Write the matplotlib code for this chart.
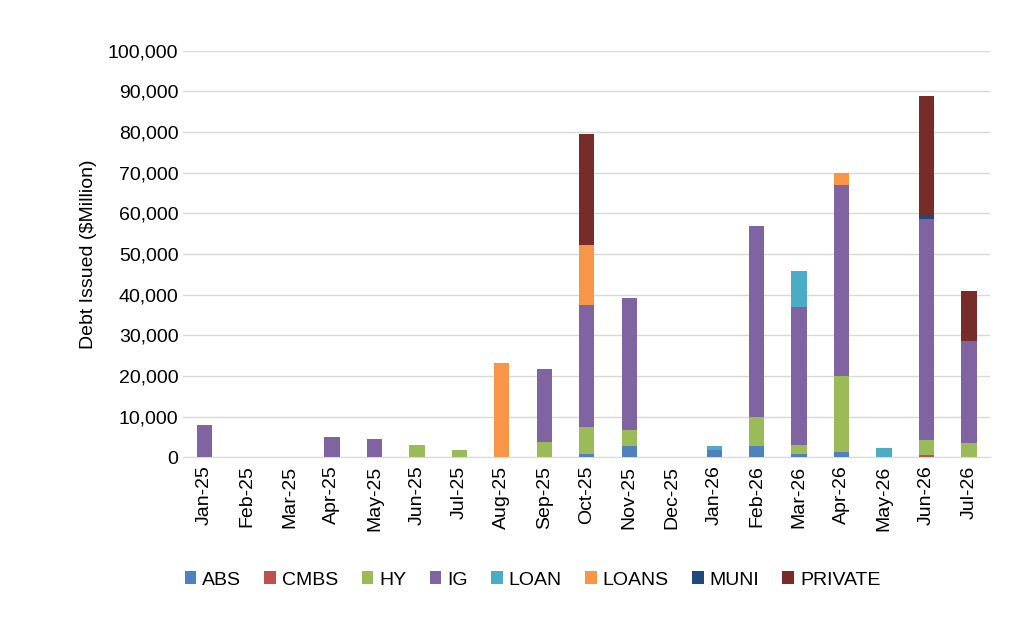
import numpy as np
import matplotlib
matplotlib.use("Agg")
import matplotlib.pyplot as plt
from matplotlib.ticker import FuncFormatter

months = ["Jan-25", "Feb-25", "Mar-25", "Apr-25", "May-25", "Jun-25", "Jul-25",
          "Aug-25", "Sep-25", "Oct-25", "Nov-25", "Dec-25", "Jan-26", "Feb-26",
          "Mar-26", "Apr-26", "May-26", "Jun-26", "Jul-26"]

abs_ = [0, 0, 0, 0, 0, 0, 0, 0, 0, 900, 2700, 0, 1800, 2700, 700, 1300, 0, 0, 0]
cmbs = [0, 0, 0, 0, 0, 0, 0, 0, 0, 0, 0, 0, 0, 0, 0, 0, 0, 500, 0]
hy = [0, 0, 0, 0, 0, 3000, 1800, 0, 3700, 6500, 4100, 0, 0, 7300, 2300, 18700, 0, 3800, 3500]
ig = [7800, 0, 0, 5000, 4500, 0, 0, 0, 18000, 30100, 32400, 0, 0, 47000, 34000, 47000, 0, 54200, 25000]
loan = [0, 0, 0, 0, 0, 0, 0, 0, 0, 0, 0, 0, 1000, 0, 8800, 0, 2300, 0, 0]
loans = [0, 0, 0, 0, 0, 0, 0, 23300, 0, 14700, 0, 0, 0, 0, 0, 3000, 0, 0, 0]
muni = [0, 0, 0, 0, 0, 0, 0, 0, 0, 0, 0, 0, 0, 0, 0, 0, 0, 1200, 0]
private = [0, 0, 0, 0, 0, 0, 0, 0, 0, 27300, 0, 0, 0, 0, 0, 0, 0, 29300, 12500]

series = [("ABS", abs_, "#4F81BD"), ("CMBS", cmbs, "#C0504D"), ("HY", hy, "#9BBB59"),
          ("IG", ig, "#8064A2"), ("LOAN", loan, "#4BACC6"), ("LOANS", loans, "#F79646"),
          ("MUNI", muni, "#1F497D"), ("PRIVATE", private, "#772C2A")]

plt.rcParams["font.family"] = ["Liberation Sans", "DejaVu Sans"]
fig, ax = plt.subplots(figsize=(10.24, 6.28), dpi=100)
fig.subplots_adjust(left=0.179, right=0.967, top=0.919, bottom=0.272)

x = np.arange(len(months))
bottom = np.zeros(len(months))
for name, vals, col in series:
    v = np.array(vals, dtype=float)
    ax.bar(x, v, 0.36, bottom=bottom, color=col, label=name, zorder=3)
    bottom += v

ax.set_ylim(0, 100000)
ax.set_xlim(-0.5, len(months) - 0.5)
ax.set_yticks(np.arange(0, 100001, 10000))
ax.yaxis.set_major_formatter(FuncFormatter(lambda v, p: f"{int(v):,}"))
ax.set_xticks(x)
ax.set_xticklabels(months, rotation=90)
ax.tick_params(axis="both", labelsize=14, length=0)
ax.tick_params(axis="x", pad=6)
ax.set_ylabel("Debt Issued ($Million)", fontsize=14, labelpad=8)
ax.grid(axis="y", color="#d9d9d9", linewidth=1, zorder=0)
for s in ["top", "right", "left"]:
    ax.spines[s].set_visible(False)
ax.spines["bottom"].set_color("#d9d9d9")

fig.legend(loc="lower center", bbox_to_anchor=(0.52, 0.035), ncol=8, frameon=False,
           fontsize=14, handlelength=0.6, handleheight=0.6, handletextpad=0.3, columnspacing=1.2)
fig.savefig("out.png", dpi=100)
